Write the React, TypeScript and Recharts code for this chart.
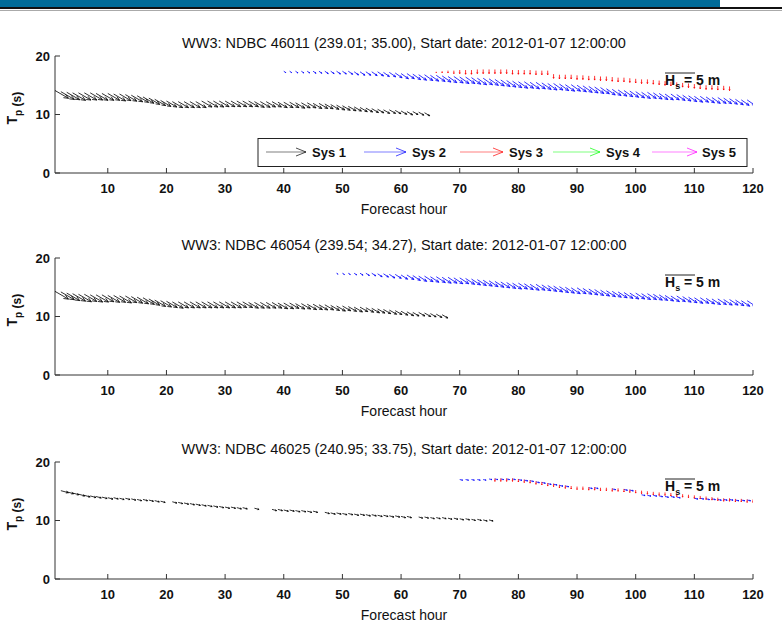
import React from "react";
import { ScatterChart, Scatter, XAxis, YAxis } from "recharts";

const FONT = "'Liberation Sans', Arial, sans-serif";
const HOUR_TICKS = [10, 20, 30, 40, 50, 60, 70, 80, 90, 100, 110, 120];
const TP_TICKS = [0, 10, 20];
const PX_PER_M = 6; // quiver scale: 5 m = 30 px

const SYSTEMS = ["Sys 1", "Sys 2", "Sys 3", "Sys 4", "Sys 5"];
const SYS_COLORS = ["#000000", "#0000ff", "#ff0000", "#00ff00", "#ff00ff"];

// ---- NDBC 46011 ----
const P1_SYS1_START = 1;
const P1_SYS1_TP = [
  14.1, 13.9, 13.8, 13.7, 13.7, 13.7, 13.7, 13.6, 13.6, 13.6,
  13.5, 13.5, 13.4, 13.3, 13.2, 13.0, 12.8, 12.6, 12.4, 12.3,
  12.2, 12.2, 12.2, 12.2, 12.2, 12.3, 12.3, 12.3, 12.3, 12.3,
  12.3, 12.3, 12.3, 12.3, 12.2, 12.2, 12.2, 12.2, 12.1, 12.1,
  12.1, 12.0, 12.0, 12.0, 11.9, 11.9, 11.8, 11.7, 11.6, 11.5,
  11.4, 11.3, 11.2, 11.1, 11.0, 10.9, 10.8, 10.8, 10.7, 10.6,
  10.5, 10.5, 10.4, 10.3,
];
const P1_SYS1_HS = [
  2.6, 2.6, 2.5, 2.5, 2.4, 2.4, 2.4, 2.3, 2.3, 2.3,
  2.3, 2.2, 2.2, 2.2, 2.2, 2.1, 2.1, 2.1, 2.0, 2.0,
  2.0, 2.0, 2.0, 2.0, 2.0, 2.0, 2.0, 2.0, 1.9, 1.9,
  1.9, 1.9, 1.9, 1.9, 1.9, 1.9, 1.8, 1.8, 1.8, 1.8,
  1.8, 1.8, 1.7, 1.7, 1.7, 1.7, 1.6, 1.6, 1.6, 1.5,
  1.5, 1.4, 1.4, 1.3, 1.3, 1.2, 1.2, 1.2, 1.1, 1.1,
  1.1, 1.0, 1.0, 1.0,
];
const P1_SYS1_DIR = 30;

const P1_SYS2_START = 40;
const P1_SYS2_TP = [
  17.4, 17.4, 17.4, 17.4, 17.4, 17.4, 17.4, 17.4, 17.4, 17.4,
  17.4, 17.4, 17.3, 17.3, 17.3, 17.3, 17.3, 17.2, 17.2, 17.1,
  17.0, 17.0, 16.9, 16.8, 16.8, 16.7, 16.7, 16.6, 16.5, 16.5,
  16.4, 16.4, 16.3, 16.2, 16.2, 16.1, 16.0, 15.9, 15.8, 15.7,
  15.6, 15.6, 15.5, 15.5, 15.4, 15.3, 15.3, 15.2, 15.1, 15.1,
  15.0, 14.9, 14.8, 14.7, 14.6, 14.4, 14.3, 14.2, 14.1, 14.0,
  13.9, 13.8, 13.8, 13.7, 13.6, 13.5, 13.5, 13.4, 13.3, 13.2,
  13.1, 13.1, 13.0, 12.9, 12.9, 12.8, 12.7, 12.6, 12.5, 12.5, 12.4,
];
const P1_SYS2_HS = [
  0.4, 0.4, 0.5, 0.5, 0.5, 0.6, 0.6, 0.7, 0.7, 0.8,
  0.8, 0.9, 0.9, 1.0, 1.0, 1.1, 1.2, 1.2, 1.3, 1.4,
  1.5, 1.5, 1.6, 1.6, 1.7, 1.7, 1.8, 1.8, 1.8, 1.9,
  1.9, 1.9, 1.9, 1.9, 1.9, 1.9, 1.9, 1.9, 1.9, 1.9,
  1.9, 1.9, 1.9, 1.9, 1.9, 1.9, 1.9, 1.9, 1.9, 1.9,
  1.9, 1.9, 1.9, 1.9, 1.8, 1.8, 1.8, 1.8, 1.8, 1.8,
  1.8, 1.8, 1.8, 1.8, 1.8, 1.7, 1.7, 1.7, 1.7, 1.7,
  1.7, 1.7, 1.7, 1.7, 1.7, 1.6, 1.6, 1.6, 1.6, 1.6, 1.6,
];
const P1_SYS2_DIR = 35;

const P1_SYS3_START = 66;
const P1_SYS3_TP = [
  17.3, 17.4, 17.5, 17.5,
  17.6, 17.6, 17.6, 17.7, 17.7, 17.7, 17.7, 17.7, 17.7, 17.6,
  17.6, 17.6, 17.6, 17.5, 17.5, 17.5,
  16.9, 16.8, 16.8, 16.8, 16.7, 16.7, 16.6, 16.6, 16.5, 16.5,
  16.4, 16.3, 16.3, 16.2, 16.1, 16.0, 16.0, 15.9, 15.8, 15.7,
  15.6, 15.5, 15.4, 15.3, 15.2, 15.1, 15.0, 15.0, 14.9, 14.9, 14.8,
];
const P1_SYS3_HS = [
  0.2, 0.3, 0.4, 0.5,
  0.6, 0.7, 0.7, 0.7, 0.7, 0.7, 0.7, 0.7, 0.7, 0.7,
  0.7, 0.7, 0.7, 0.7, 0.7, 0.7,
  0.7, 0.7, 0.7, 0.7, 0.7, 0.7, 0.7, 0.7, 0.7, 0.7,
  0.7, 0.7, 0.7, 0.7, 0.7, 0.7, 0.7, 0.7, 0.7, 0.7,
  0.7, 0.7, 0.7, 0.7, 0.7, 0.7, 0.7, 0.7, 0.7, 0.7, 0.7,
];
const P1_SYS3_DIR = 90;

// ---- NDBC 46054 ----
const P2_SYS1_START = 1;
const P2_SYS1_TP = [
  14.3, 14.2, 14.0, 13.9, 13.8, 13.8, 13.7, 13.7, 13.7, 13.6,
  13.6, 13.5, 13.5, 13.4, 13.3, 13.2, 13.0, 12.8, 12.7, 12.6,
  12.5, 12.5, 12.5, 12.5, 12.5, 12.5, 12.5, 12.5, 12.5, 12.5,
  12.5, 12.5, 12.5, 12.4, 12.4, 12.4, 12.4, 12.4, 12.3, 12.3,
  12.3, 12.2, 12.2, 12.1, 12.1, 12.0, 12.0, 11.9, 11.8, 11.8,
  11.7, 11.6, 11.6, 11.5, 11.4, 11.3, 11.2, 11.1, 11.0, 10.9,
  10.8, 10.7, 10.7, 10.6, 10.5, 10.4, 10.3,
];
const P2_SYS1_HS = [
  2.6, 2.6, 2.5, 2.5, 2.5, 2.4, 2.4, 2.4, 2.3, 2.3,
  2.3, 2.3, 2.2, 2.2, 2.2, 2.2, 2.1, 2.1, 2.1, 2.1,
  2.1, 2.0, 2.0, 2.0, 2.0, 2.0, 2.0, 2.0, 2.0, 2.0,
  2.0, 1.9, 1.9, 1.9, 1.9, 1.9, 1.9, 1.9, 1.9, 1.9,
  1.8, 1.8, 1.8, 1.8, 1.8, 1.7, 1.7, 1.7, 1.7, 1.6,
  1.6, 1.6, 1.5, 1.5, 1.5, 1.4, 1.4, 1.4, 1.3, 1.3,
  1.3, 1.2, 1.2, 1.2, 1.1, 1.1, 1.1,
];
const P2_SYS1_DIR = 30;

const P2_SYS2_START = 49;
const P2_SYS2_TP = [
  17.4, 17.4, 17.4, 17.4, 17.4, 17.4, 17.4, 17.3, 17.3, 17.2, 17.2,
  17.1, 17.1, 17.0, 16.9, 16.9, 16.8, 16.8, 16.7, 16.7, 16.6,
  16.6, 16.5, 16.4, 16.3, 16.2, 16.1, 16.0, 15.9, 15.8, 15.7,
  15.7, 15.6, 15.5, 15.5, 15.4, 15.3, 15.2, 15.1, 15.0, 14.9,
  14.9, 14.8, 14.7, 14.6, 14.5, 14.4, 14.3, 14.2, 14.1, 14.0,
  14.0, 13.9, 13.9, 13.8, 13.7, 13.6, 13.5, 13.5, 13.4, 13.3,
  13.2, 13.2, 13.1, 13.0, 13.0, 12.9, 12.9, 12.8, 12.7, 12.7, 12.6,
];
const P2_SYS2_HS = [
  0.3, 0.4, 0.4, 0.5, 0.6, 0.7, 0.8, 0.9, 1.0, 1.1, 1.2,
  1.3, 1.4, 1.5, 1.6, 1.7, 1.7, 1.8, 1.8, 1.8, 1.8,
  1.8, 1.8, 1.8, 1.8, 1.8, 1.8, 1.8, 1.8, 1.8, 1.8,
  1.8, 1.8, 1.8, 1.8, 1.8, 1.8, 1.8, 1.8, 1.8, 1.8,
  1.8, 1.8, 1.8, 1.8, 1.8, 1.8, 1.8, 1.8, 1.8, 1.8,
  1.8, 1.8, 1.8, 1.8, 1.7, 1.7, 1.7, 1.7, 1.7, 1.7,
  1.7, 1.7, 1.7, 1.7, 1.7, 1.7, 1.7, 1.7, 1.7, 1.7, 1.7,
];
const P2_SYS2_DIR = 33;

// ---- NDBC 46025 ----
const P3_SYS1_HOURS = [
  2, 3, 4, 5, 6, 7, 8, 9, 10, 11, 12, 13, 14, 15, 16, 17, 18, 19,
  21, 22, 23, 24, 25, 26, 27, 28, 29, 30, 31, 32, 33,
  35,
  38, 39, 40, 41, 42, 43, 44, 45,
  47, 48, 49, 50, 51, 52, 53, 54, 55, 56, 57, 58, 59, 60, 61,
  63, 64, 65, 66, 67, 68, 69, 70, 71, 72, 73, 74, 75,
];
const P3_SYS1_TP = [
  15.1, 14.9, 14.7, 14.5, 14.3, 14.2, 14.1, 14.0, 13.9, 13.9, 13.8, 13.8, 13.7, 13.6, 13.6, 13.5, 13.4, 13.3,
  13.2, 13.1, 13.0, 12.9, 12.8, 12.7, 12.6, 12.5, 12.4, 12.3, 12.3, 12.2, 12.2,
  12.1,
  11.9, 11.9, 11.8, 11.8, 11.7, 11.7, 11.6, 11.6,
  11.4, 11.3, 11.3, 11.2, 11.2, 11.1, 11.1, 11.0, 11.0, 10.9, 10.9, 10.8, 10.8, 10.7, 10.7,
  10.6, 10.6, 10.5, 10.5, 10.5, 10.4, 10.4, 10.3, 10.3, 10.2, 10.2, 10.1, 10.1,
];
const P3_SYS1_HS = [
  1.3, 1.2, 1.1, 1.1, 1.0, 1.0, 0.9, 0.9, 0.9, 0.8, 0.8, 0.8, 0.8, 0.8, 0.8, 0.8, 0.8, 0.8,
  0.8, 0.8, 0.8, 0.8, 0.8, 0.8, 0.8, 0.8, 0.8, 0.8, 0.8, 0.8, 0.8,
  0.8,
  0.8, 0.8, 0.8, 0.8, 0.8, 0.8, 0.8, 0.8,
  0.8, 0.8, 0.8, 0.8, 0.8, 0.8, 0.8, 0.8, 0.8, 0.8, 0.8, 0.8, 0.8, 0.8, 0.8,
  0.7, 0.7, 0.7, 0.7, 0.7, 0.7, 0.7, 0.7, 0.7, 0.7, 0.7, 0.7, 0.7,
];
const P3_SYS1_DIR = 15;

const P3_SYS2_HOURS = [
  70, 71, 72, 73, 74, 75, 76, 77, 78, 79, 80, 81, 82, 83, 84, 85, 86, 87, 88,
  92, 93, 96, 98, 99,
  101, 102, 103, 104, 105, 106, 107,
  110, 111, 112, 113, 114, 115, 116, 117, 118, 119, 120,
];
const P3_SYS2_TP = [
  17.0, 17.0, 17.0, 17.0, 17.0, 17.1, 17.1, 17.1, 17.1, 17.1, 17.0, 16.9, 16.8, 16.6, 16.5, 16.3, 16.2, 16.0, 15.9,
  15.6, 15.6, 15.4, 15.3, 15.2,
  14.4, 14.3, 14.3, 14.2, 14.1, 14.1, 14.0,
  13.8, 13.8, 13.7, 13.7, 13.6, 13.6, 13.6, 13.5, 13.5, 13.5, 13.4,
];
const P3_SYS2_HS = [
  0.5, 0.5, 0.5, 0.5, 0.5, 0.5, 0.5, 0.5, 0.5, 0.5, 0.6, 0.6, 0.6, 0.6, 0.6, 0.6, 0.6, 0.6, 0.6,
  0.6, 0.6, 0.6, 0.6, 0.6,
  0.6, 0.6, 0.6, 0.6, 0.6, 0.6, 0.6,
  0.6, 0.6, 0.6, 0.6, 0.6, 0.6, 0.6, 0.6, 0.6, 0.6, 0.6,
];
const P3_SYS2_DIR = 12;

const P3_SYS3_START = 76;
const P3_SYS3_TP = [
  17.2, 17.2, 17.2, 17.2, 17.1, 17.0, 16.9, 16.7, 16.6, 16.4,
  16.3, 16.1, 16.0, 15.9, 15.8, 15.8, 15.7, 15.7, 15.6, 15.6,
  15.5, 15.5, 15.4, 15.3, 15.2, 15.1, 15.0, 14.9, 14.8, 14.8,
  14.7, 14.6, 14.5, 14.4, 14.3, 14.2, 14.1, 14.0, 13.9, 13.8,
  13.8, 13.7, 13.7, 13.6, 13.6,
];
const P3_SYS3_HS = [
  0.5, 0.5, 0.5, 0.5, 0.5, 0.5, 0.5, 0.5, 0.5, 0.5,
  0.5, 0.5, 0.5, 0.5, 0.5, 0.5, 0.5, 0.5, 0.5, 0.5,
  0.5, 0.5, 0.5, 0.5, 0.5, 0.5, 0.5, 0.5, 0.5, 0.5,
  0.5, 0.5, 0.5, 0.5, 0.5, 0.5, 0.5, 0.5, 0.5, 0.5,
  0.5, 0.5, 0.5, 0.5, 0.5,
];
const P3_SYS3_DIR = 90;

type Pt = { hour: number; tp: number; hs: number };

function fromStart(start: number, tp: number[], hs: number[]): Pt[] {
  return tp.map((v, i) => ({ hour: start + i, tp: v, hs: hs[i] }));
}
function fromHours(hours: number[], tp: number[], hs: number[]): Pt[] {
  return hours.map((h, i) => ({ hour: h, tp: tp[i], hs: hs[i] }));
}

interface Series { sys: number; dir: number; data: Pt[] }

const PANELS: { title: string; top: number; series: Series[]; legend?: boolean }[] = [
  {
    title: "WW3: NDBC 46011 (239.01; 35.00), Start date: 2012-01-07 12:00:00",
    top: 30,
    legend: true,
    series: [
      { sys: 0, dir: P1_SYS1_DIR, data: fromStart(P1_SYS1_START, P1_SYS1_TP, P1_SYS1_HS) },
      { sys: 1, dir: P1_SYS2_DIR, data: fromStart(P1_SYS2_START, P1_SYS2_TP, P1_SYS2_HS) },
      { sys: 2, dir: P1_SYS3_DIR, data: fromStart(P1_SYS3_START, P1_SYS3_TP, P1_SYS3_HS) },
    ],
  },
  {
    title: "WW3: NDBC 46054 (239.54; 34.27), Start date: 2012-01-07 12:00:00",
    top: 232,
    series: [
      { sys: 0, dir: P2_SYS1_DIR, data: fromStart(P2_SYS1_START, P2_SYS1_TP, P2_SYS1_HS) },
      { sys: 1, dir: P2_SYS2_DIR, data: fromStart(P2_SYS2_START, P2_SYS2_TP, P2_SYS2_HS) },
    ],
  },
  {
    title: "WW3: NDBC 46025 (240.95; 33.75), Start date: 2012-01-07 12:00:00",
    top: 436,
    series: [
      { sys: 0, dir: P3_SYS1_DIR, data: fromHours(P3_SYS1_HOURS, P3_SYS1_TP, P3_SYS1_HS) },
      { sys: 1, dir: P3_SYS2_DIR, data: fromHours(P3_SYS2_HOURS, P3_SYS2_TP, P3_SYS2_HS) },
      { sys: 2, dir: P3_SYS3_DIR, data: fromStart(P3_SYS3_START, P3_SYS3_TP, P3_SYS3_HS) },
    ],
  },
];

// quiver arrow: tail at the data point, length from Hs
function arrowShape(color: string, dir: number) {
  return (props: any) => {
    const { cx, cy, payload } = props;
    if (cx == null || cy == null) return <g />;
    const len = payload.hs * PX_PER_M;
    const a = (dir * Math.PI) / 180;
    const x2 = cx + len * Math.cos(a);
    const y2 = cy + len * Math.sin(a);
    const h = len * 0.33;
    const s = 0.4;
    const hx1 = x2 - h * Math.cos(a - s);
    const hy1 = y2 - h * Math.sin(a - s);
    const hx2 = x2 - h * Math.cos(a + s);
    const hy2 = y2 - h * Math.sin(a + s);
    return (
      <g stroke={color} strokeWidth={1} fill="none" strokeOpacity={0.8}>
        <line x1={cx} y1={cy} x2={x2} y2={y2} />
        <polyline points={`${hx1},${hy1} ${x2},${y2} ${hx2},${hy2}`} />
      </g>
    );
  };
}

const PLOT_LEFT = 55;
const PLOT_RIGHT = 753;
const PLOT_TOP = 26;
const PLOT_H = 117;
const MID_X = (PLOT_LEFT + PLOT_RIGHT) / 2;

function Panel({ top, series }: { top: number; series: Series[] }) {
  const tick = { fontSize: 13, fill: "#111", fontFamily: FONT, fontWeight: "bold" };
  return (
    <div style={{ position: "absolute", left: 0, top }}>
      <ScatterChart width={782} height={190} margin={{ top: PLOT_TOP, right: 29, bottom: 0, left: 25 }}>
        <XAxis xAxisId="b" type="number" dataKey="hour" domain={[1, 120]} ticks={HOUR_TICKS} allowDataOverflow
          height={47} tickSize={-5} tickMargin={16} stroke="#333" tick={tick} interval={0} />
        <XAxis xAxisId="t" orientation="top" type="number" dataKey="hour" domain={[1, 120]} ticks={HOUR_TICKS}
          allowDataOverflow height={0} tickSize={-5} stroke="#333" tick={false} />
        <YAxis yAxisId="l" type="number" dataKey="tp" domain={[0, 20]} ticks={TP_TICKS} allowDataOverflow
          width={30} tickSize={-5} tickMargin={10} stroke="#333" tick={tick} interval={0} />
        <YAxis yAxisId="r" orientation="right" type="number" dataKey="tp" domain={[0, 20]} ticks={TP_TICKS}
          allowDataOverflow width={0} tickSize={-5} stroke="#333" tick={false} />
        {series.map((s, i) => (
          <Scatter key={i} xAxisId="b" yAxisId="l" data={s.data} isAnimationActive={false}
            shape={arrowShape(SYS_COLORS[s.sys], s.dir)} />
        ))}
      </ScatterChart>
    </div>
  );
}

function LegendArrow({ x1, x2, y, color }: { x1: number; x2: number; y: number; color: string }) {
  return (
    <g fill="none" stroke={color}>
      <line x1={x1} y1={y} x2={x2} y2={y} strokeOpacity={0.5} />
      <polyline points={`${x2 - 10},${y - 4} ${x2},${y} ${x2 - 10},${y + 4}`} strokeOpacity={0.7} />
    </g>
  );
}

const LEGEND_LINES = [[266, 306], [364, 406], [460, 503], [553, 600], [652, 697]];
const LEGEND_TEXT_X = [312, 412, 509, 606, 702];

export default function App() {
  return (
    <div style={{ position: "absolute", left: 0, top: 0, width: 782, height: 625, background: "#fff", overflow: "hidden" }}>
      {PANELS.map((p, i) => (
        <Panel key={i} top={p.top} series={p.series} />
      ))}
      <svg width={782} height={625} style={{ position: "absolute", left: 0, top: 0, pointerEvents: "none" }}
        fontFamily={FONT}>
        <rect x={0} y={0} width={720} height={7} fill="#006b98" />
        <line x1={0} y1={8} x2={782} y2={8} stroke="#111" strokeWidth={2} />
        <line x1={0} y1={10.5} x2={782} y2={10.5} stroke="#aaa" strokeWidth={1} />
        {PANELS.map((p, i) => {
          const pt = p.top + PLOT_TOP;
          const cy = pt + PLOT_H / 2;
          return (
            <g key={i}>
              <text x={MID_X} y={pt - 8} textAnchor="middle" fontSize={14.5} fill="#111">{p.title}</text>
              <text x={MID_X} y={pt + PLOT_H + 41} textAnchor="middle" fontSize={14} fill="#111">Forecast hour</text>
              <text x={17} y={cy + 10} transform={`rotate(-90, 17, ${cy + 10})`} fontSize={14} fontWeight="bold" fill="#111">
                T<tspan fontSize={10} dy={5}>p</tspan><tspan fontSize={12} dy={-1}> (s)</tspan>
              </text>
              <line x1={665} y1={pt + 17} x2={695} y2={pt + 17} stroke="#222" />
              <text x={665} y={pt + 29} fontSize={14} fontWeight="bold" fill="#111">
                H<tspan fontSize={9} dy={4}>s</tspan><tspan dy={-4}> = 5 m</tspan>
              </text>
              {p.legend && (
                <g>
                  <rect x={258} y={138.5} width={489} height={28} fill="#fff" stroke="#222" />
                  {SYSTEMS.map((name, k) => (
                    <g key={k}>
                      <LegendArrow x1={LEGEND_LINES[k][0]} x2={LEGEND_LINES[k][1]} y={152} color={SYS_COLORS[k]} />
                      <text x={LEGEND_TEXT_X[k]} y={157} fontSize={13} fontWeight="bold" fill="#111">{name}</text>
                    </g>
                  ))}
                </g>
              )}
            </g>
          );
        })}
      </svg>
    </div>
  );
}
